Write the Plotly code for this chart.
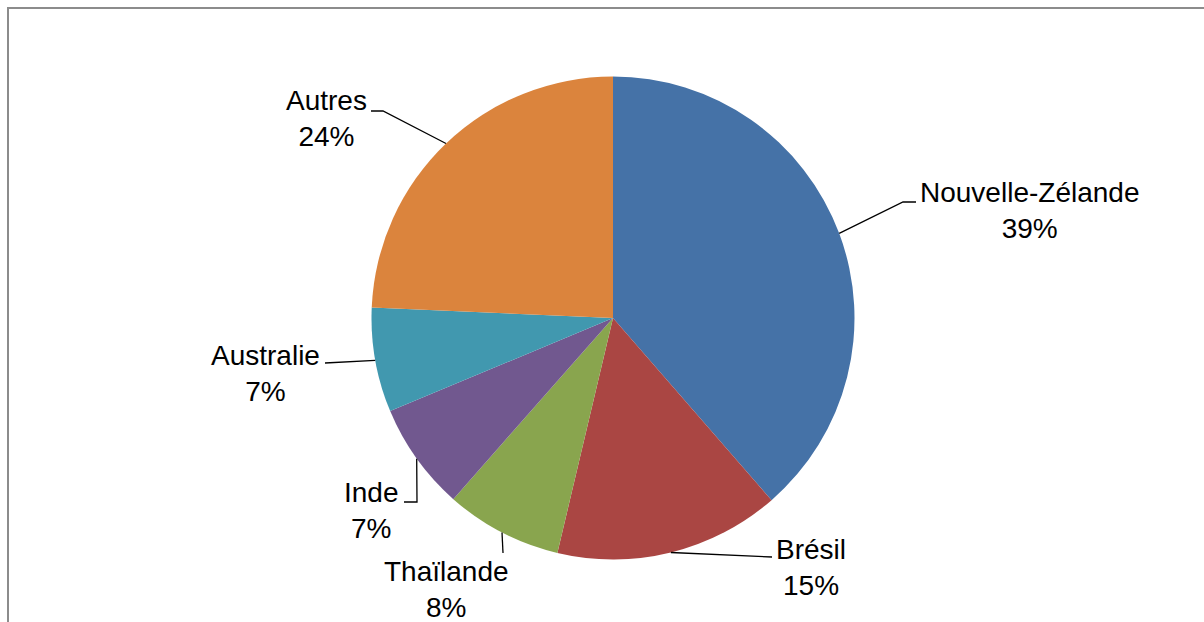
import math
import plotly.graph_objects as go

# ---- data ----
countries = ["Nouvelle-Zélande", "Brésil", "Thaïlande", "Inde", "Australie", "Autres"]
shares = [38.6, 15.1, 7.8, 7.2, 7.0, 24.3]
colors = ["#4572A7", "#AA4643", "#89A54E", "#71588F", "#4198AF", "#DB843D"]

# ---- layout geometry (pixels) ----
W, H = 1204, 622
CX, CY, R = 613.0, 318.0, 241.5
FONT = dict(family="Liberation Sans, Arial, sans-serif", size=28, color="#000000")

# label block centre (x, y) and leader-line bend points, per label
label_layout = {
    "Nouvelle-Zélande": dict(pos=(1029.5, 210), path=[(903, 202), (916, 202)]),
    "Brésil": dict(pos=(811, 567), path=[(772, 557)]),
    "Thaïlande": dict(pos=(446.5, 589), path=[(503, 553)]),
    "Inde": dict(pos=(371, 510), path=[(417, 502), (404, 502)]),
    "Australie": dict(pos=(265.5, 373.5), path=[(325, 363)]),
    "Autres": dict(pos=(326.5, 118), path=[(383, 111), (371, 111)]),
}

total = sum(shares)

fig = go.Figure()
fig.add_trace(go.Pie(
    labels=countries,
    values=shares,
    marker=dict(colors=colors, line=dict(width=0)),
    sort=False,
    direction="clockwise",
    rotation=0,
    textinfo="none",
    hoverinfo="label+percent",
    showlegend=False,
    domain=dict(x=[(CX - R) / W, (CX + R) / W], y=[(H - (CY + R)) / H, (H - (CY - R)) / H]),
))

shapes = []
annotations = []
cum = 0.0
for name, v in zip(countries, shares):
    mid = (cum + v / 2) / total
    cum += v
    ang = 2 * math.pi * mid
    ex = CX + R * math.sin(ang)
    ey = CY - R * math.cos(ang)
    info = label_layout[name]
    pts = [(ex, ey)] + info["path"]
    d = "M " + " L ".join(f"{px:.1f} {py:.1f}" for px, py in pts)
    shapes.append(dict(type="path", path=d, xref="x", yref="y",
                       line=dict(color="#000000", width=1.3)))
    pct = round(v / total * 100)
    lx, ly = info["pos"]
    annotations.append(dict(x=lx, y=ly, xref="x", yref="y", text=f"{name}<br>{pct}%",
                            showarrow=False, xanchor="center", yanchor="middle",
                            align="center", font=FONT))

# chart frame (top and left edges visible)
shapes.append(dict(type="path", path=f"M 8 {H} L 8 8 L {W} 8", xref="x", yref="y",
                   line=dict(color="#8C8C8C", width=2)))

fig.update_layout(
    width=W, height=H,
    margin=dict(l=0, r=0, t=0, b=0),
    paper_bgcolor="white", plot_bgcolor="white",
    xaxis=dict(range=[0, W], visible=False, fixedrange=True),
    yaxis=dict(range=[H, 0], visible=False, fixedrange=True),
    shapes=shapes,
    annotations=annotations,
)

fig.write_html("out.html",
               config={"displayModeBar": False},
               post_script="document.body.style.margin='0px';document.body.style.overflow='hidden';")
